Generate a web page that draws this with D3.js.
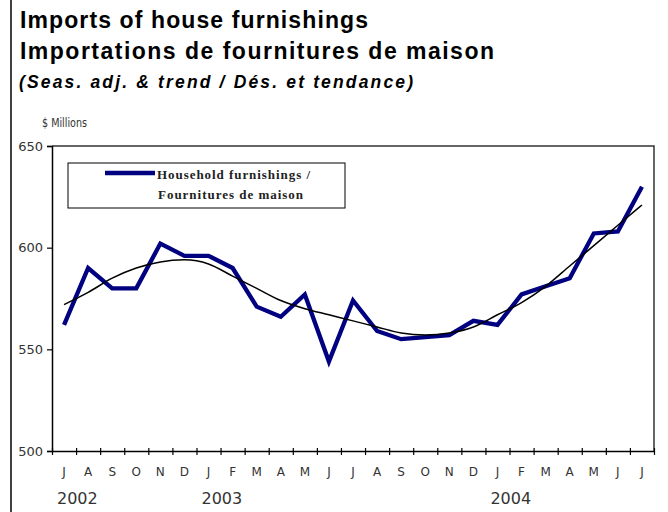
<!DOCTYPE html>
<html>
<head>
<meta charset="utf-8">
<script src="https://cdn.jsdelivr.net/npm/d3@7"></script>
<style>
  html, body { margin: 0; padding: 0; background: #fff; }
  svg { display: block; }
</style>
</head>
<body>
<svg id="chart" width="668" height="512"></svg>
<script>
// ---- Data ----
const months = ["J","A","S","O","N","D","J","F","M","A","M","J","J","A","S","O","N","D","J","F","M","A","M","J","J"];
const years = [{label: "2002", index: 0}, {label: "2003", index: 6}, {label: "2004", index: 18}];
const furnishings = [562, 590, 580, 580, 602, 596, 596, 590, 571, 566, 577, 544, 574, 559, 555, 556, 557, 564, 562, 577, 581, 585, 607, 608, 630];
const trend = [572, 578, 585, 590, 593, 594, 592, 586, 580, 574, 570, 567, 564, 561, 558, 557, 558, 561, 567, 573, 581, 591, 601, 611, 621];
const yTicks = [500, 550, 600, 650];

const svg = d3.select("#chart");
const mLeft = 52, mRight = 654, mTop = 146, mBottom = 451;

const x = d3.scaleLinear().domain([0, months.length]).range([mLeft, mRight]);
const y = d3.scaleLinear().domain([500, 650]).range([mBottom, mTop]);

// outer frame line on left
svg.append("line").attr("x1", 11).attr("x2", 11).attr("y1", 0).attr("y2", 512)
  .attr("stroke", "#000").attr("stroke-width", 1.5);

// titles
const titleFont = "'Liberation Sans', Arial, sans-serif";
svg.append("text").attr("x", 20).attr("y", 28).text("Imports of house furnishings")
  .attr("font-family", titleFont).attr("font-weight", "bold").attr("font-size", 23)
  .attr("textLength", 348).attr("lengthAdjust", "spacing");
svg.append("text").attr("x", 20).attr("y", 59).text("Importations de fournitures de maison")
  .attr("font-family", titleFont).attr("font-weight", "bold").attr("font-size", 23)
  .attr("textLength", 474).attr("lengthAdjust", "spacing");
svg.append("text").attr("x", 19).attr("y", 88).text("(Seas. adj. & trend / Dés. et tendance)")
  .attr("font-family", titleFont).attr("font-weight", "bold").attr("font-style", "italic").attr("font-size", 17.5)
  .attr("textLength", 394).attr("lengthAdjust", "spacing");

// $ Millions
svg.append("text").attr("x", 42).attr("y", 127).text("$ Millions")
  .attr("font-family", "'DejaVu Sans', sans-serif").attr("font-size", 12).attr("fill", "#333")
  .attr("textLength", 45).attr("lengthAdjust", "spacingAndGlyphs");

// plot frame (top and right)
svg.append("path").attr("d", `M${mLeft},${mTop}H${mRight}V${mBottom}`)
  .attr("fill", "none").attr("stroke", "#333").attr("stroke-width", 1.5);

// y axis
const yAxis = d3.axisLeft(y).tickValues(yTicks).tickSize(5).tickPadding(4);
const gy = svg.append("g").attr("transform", `translate(${mLeft},0)`).call(yAxis);
gy.select(".domain").attr("stroke", "#000").attr("stroke-width", 1.5);
gy.selectAll(".tick line").attr("stroke", "#000").attr("stroke-width", 1.2);
gy.selectAll(".tick text").attr("font-family", "'DejaVu Sans', sans-serif").attr("font-size", 13).attr("fill", "#333");

// x axis
const xAxis = d3.axisBottom(x).tickValues(d3.range(months.length + 1)).tickFormat("").tickSize(0);
const gx = svg.append("g").attr("transform", `translate(0,${mBottom})`).call(xAxis);
gx.select(".domain").attr("stroke", "#000").attr("stroke-width", 1.5);
gx.selectAll(".tick line").attr("y1", -3).attr("y2", 4).attr("stroke", "#000").attr("stroke-width", 1.2);

// month labels
svg.append("g").selectAll("text").data(months).join("text")
  .attr("x", (d, i) => x(i + 0.5)).attr("y", 476).attr("text-anchor", "middle")
  .attr("font-family", "'DejaVu Sans', sans-serif").attr("font-size", 12).attr("fill", "#333")
  .text(d => d);

// year labels
svg.append("g").selectAll("text").data(years).join("text")
  .attr("x", d => x(d.index) + 5).attr("y", 504)
  .attr("font-family", "'DejaVu Sans', sans-serif").attr("font-size", 16).attr("fill", "#333")
  .text(d => d.label);

// lines
const line = d3.line().x((d, i) => x(i + 0.5)).y(d => y(d));
svg.append("path").datum(furnishings).attr("d", line)
  .attr("fill", "none").attr("stroke", "#000080").attr("stroke-width", 4.3).attr("stroke-linejoin", "miter");
svg.append("path").datum(trend).attr("d", d3.line().x((d, i) => x(i + 0.5)).y(d => y(d)).curve(d3.curveMonotoneX))
  .attr("fill", "none").attr("stroke", "#000").attr("stroke-width", 1.5);

// legend
const lg = svg.append("g");
lg.append("rect").attr("x", 68).attr("y", 163).attr("width", 277).attr("height", 45)
  .attr("fill", "#fff").attr("stroke", "#000").attr("stroke-width", 1);
lg.append("line").attr("x1", 105).attr("x2", 155).attr("y1", 173).attr("y2", 173)
  .attr("stroke", "#000080").attr("stroke-width", 4.3);
const legendFont = "'Liberation Serif', 'Times New Roman', serif";
lg.append("text").attr("x", 157).attr("y", 179).text("Household furnishings /")
  .attr("font-family", legendFont).attr("font-size", 13).attr("font-weight", "bold").attr("fill", "#222")
  .attr("textLength", 153).attr("lengthAdjust", "spacing");
lg.append("text").attr("x", 158).attr("y", 199).text("Fournitures de maison")
  .attr("font-family", legendFont).attr("font-size", 13).attr("font-weight", "bold").attr("fill", "#222")
  .attr("textLength", 145).attr("lengthAdjust", "spacing");
</script>
</body>
</html>
